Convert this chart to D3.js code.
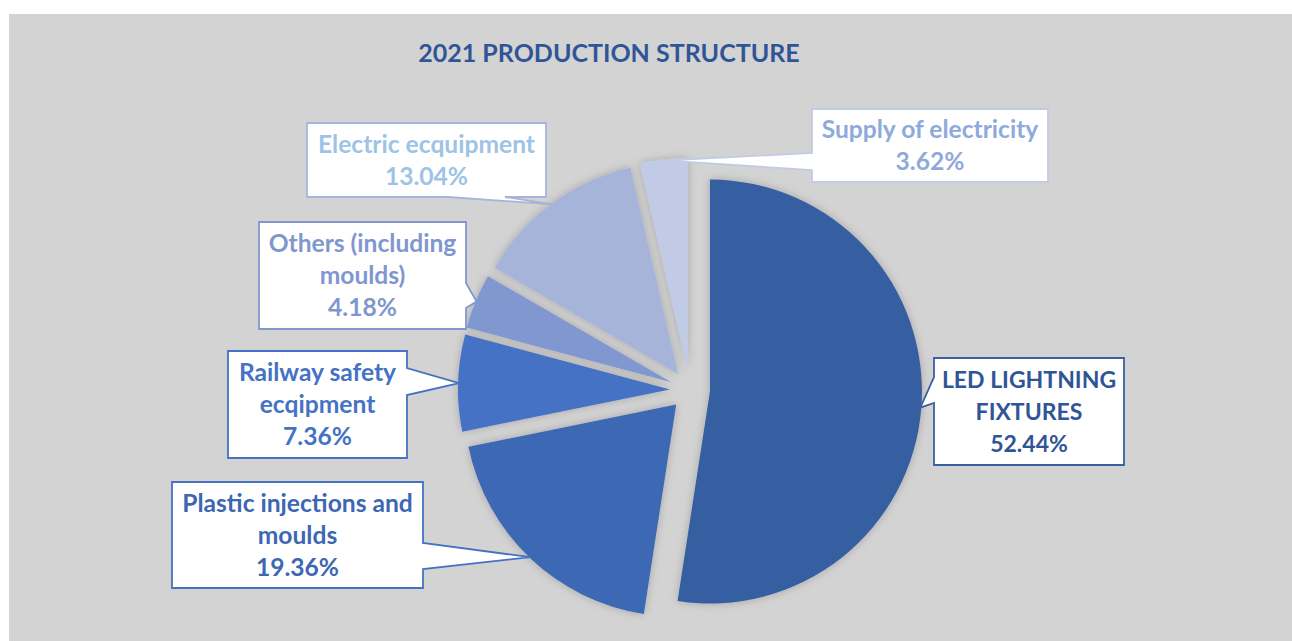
<!DOCTYPE html>
<html>
<head>
<meta charset="utf-8">
<script src="https://cdn.jsdelivr.net/npm/d3@7"></script>
<style>
  html, body { margin: 0; padding: 0; background: #ffffff; }
  svg { display: block; }
  text { font-family: "Lato", "Open Sans", sans-serif; font-weight: 700; }
</style>
</head>
<body>
<svg id="chart" width="1292" height="641"></svg>
<script>
// ---- data ----
const title = "2021 PRODUCTION STRUCTURE";
const categories = [
  "LED LIGHTNING FIXTURES",
  "Plastic injections and moulds",
  "Railway safety ecqipment",
  "Others (including moulds)",
  "Electric ecquipment",
  "Supply of electricity"
];
const values = [52.44, 19.36, 7.36, 4.18, 13.04, 3.62];
const labelLines = [
  ["LED LIGHTNING", "FIXTURES"],
  ["Plastic injections and", "moulds"],
  ["Railway safety", "ecqipment"],
  ["Others (including", "moulds)"],
  ["Electric ecquipment"],
  ["Supply of electricity"]
];

// ---- styles ----
const sliceColors = ["#365ea1", "#3c69b4", "#4472c4", "#8097cf", "#a6b4da", "#c1cbe6"];
const textColors  = ["#2f5597", "#3c67b2", "#4472c4", "#7f97cf", "#9dc3e6", "#8eaadb"];
const borderColors= ["#3a5fa3", "#4472c4", "#4472c4", "#8097cf", "#a6b4da", "#c1cbe6"];
const labelSizes  = [23, 24.6, 24.6, 24.6, 24.6, 24.6];

// ---- layout ----
const W = 1292, H = 641;
const cx = 690, cy = 390, R = 212, explode = 20;
// callout boxes: x, y, w, h, pointer side, pointer base [a,b] along side
const boxes = [
  {x: 934, y: 358, w: 190, h: 107, side: "left",   base: [377, 403]},
  {x: 172, y: 482, w: 251, h: 106, side: "right",  base: [543, 569]},
  {x: 228, y: 351, w: 179, h: 107, side: "right",  base: [368, 395]},
  {x: 259, y: 222, w: 207, h: 107, side: "right",  base: [283, 308]},
  {x: 307, y: 123, w: 239, h: 74,  side: "bottom", base: [448, 505]},
  {x: 812, y: 109, w: 236, h: 73,  side: "left",   base: [153, 170]}
];

const svg = d3.select("#chart");

svg.append("rect").attr("x", 9).attr("y", 14).attr("width", W - 9).attr("height", H - 14)
  .attr("fill", "#d3d3d3");

const defs = svg.append("defs");
const f = defs.append("filter").attr("id", "shadow")
  .attr("x", "-20%").attr("y", "-20%").attr("width", "140%").attr("height", "140%");
f.append("feDropShadow").attr("dx", 0).attr("dy", 0).attr("stdDeviation", 4)
  .attr("flood-color", "#000").attr("flood-opacity", 0.22);

svg.append("text")
  .attr("x", 609).attr("y", 62)
  .attr("text-anchor", "middle")
  .attr("fill", "#2f5597")
  .style("font-size", "25px")
  .text(title);

const pie = d3.pie().sort(null).value(d => d)(values);
const arc = d3.arc().innerRadius(0).outerRadius(R);
const tipArc = d3.arc().innerRadius(R - 1).outerRadius(R - 1);

const offs = pie.map(p => {
  const m = (p.startAngle + p.endAngle) / 2;
  return [Math.sin(m) * explode, -Math.cos(m) * explode];
});

const g = svg.append("g").attr("transform", `translate(${cx},${cy})`);
g.selectAll("path.slice").data(pie).join("path")
  .attr("class", "slice")
  .attr("d", arc)
  .attr("transform", (d, i) => `translate(${offs[i][0]},${offs[i][1]})`)
  .attr("fill", (d, i) => sliceColors[i])
  .attr("filter", "url(#shadow)");

// callouts
const lg = svg.append("g");
pie.forEach((p, i) => {
  const b = boxes[i];
  const c = tipArc.centroid(p);
  const tx = cx + c[0] + offs[i][0], ty = cy + c[1] + offs[i][1];
  const x0 = b.x, y0 = b.y, x1 = b.x + b.w, y1 = b.y + b.h;
  let pts;
  if (b.side === "left") {
    pts = [[x0, y0], [x1, y0], [x1, y1], [x0, y1], [x0, b.base[1]], [tx, ty], [x0, b.base[0]]];
  } else if (b.side === "right") {
    pts = [[x0, y0], [x1, y0], [x1, b.base[0]], [tx, ty], [x1, b.base[1]], [x1, y1], [x0, y1]];
  } else {
    pts = [[x0, y0], [x1, y0], [x1, y1], [b.base[1], y1], [tx, ty], [b.base[0], y1], [x0, y1]];
  }
  lg.append("path")
    .attr("d", "M" + pts.map(q => q.join(",")).join("L") + "Z")
    .attr("fill", "#ffffff")
    .attr("stroke", borderColors[i])
    .attr("stroke-width", 1.8)
    .attr("stroke-linejoin", "miter");

  const lines = labelLines[i].concat([d3.format(".2f")(values[i]) + "%"]);
  const lh = 32;
  const midY = (y0 + y1) / 2;
  const startY = midY - (lines.length - 1) * lh / 2;
  const t = lg.append("text")
    .attr("text-anchor", "middle")
    .attr("fill", textColors[i])
    .style("font-size", labelSizes[i] + "px");
  lines.forEach((ln, k) => {
    t.append("tspan")
      .attr("x", (x0 + x1) / 2)
      .attr("y", startY + k * lh + 8.5)
      .text(ln);
  });
});
</script>
</body>
</html>
